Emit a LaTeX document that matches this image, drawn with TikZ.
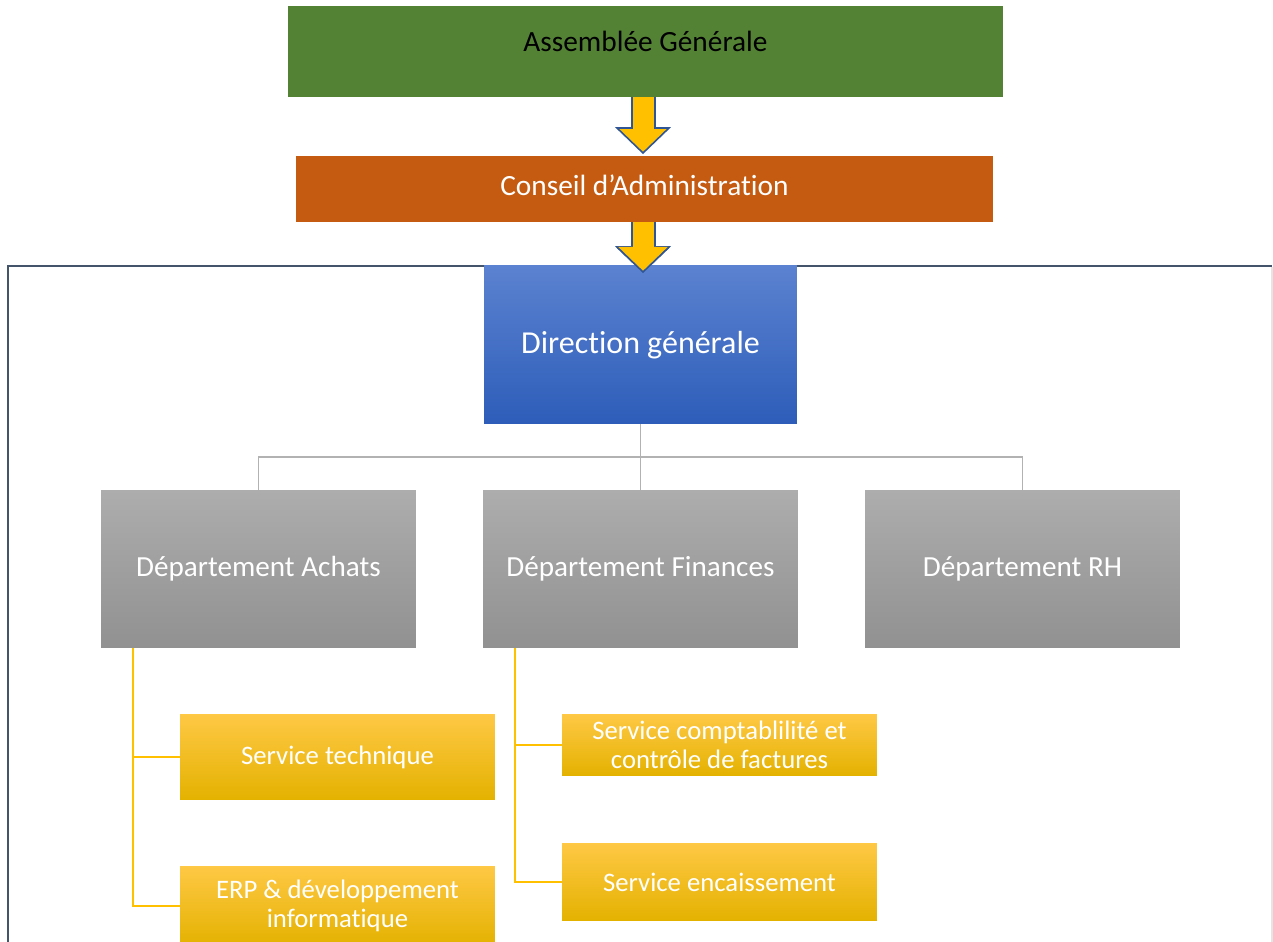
\documentclass[tikz,border=0pt]{standalone}
\usepackage{fontspec}
\setmainfont{Carlito}[Ligatures={NoCommon,NoContextual}]
\usetikzlibrary{calc}

\definecolor{agGreen}{HTML}{548235}
\definecolor{caOrange}{HTML}{C55A11}
\definecolor{dgTop}{HTML}{5B82D0}
\definecolor{dgBot}{HTML}{2D5DB9}
\definecolor{depTop}{HTML}{ADADAD}
\definecolor{depBot}{HTML}{919191}
\definecolor{svTop}{HTML}{FFC845}
\definecolor{svMid}{HTML}{FFC000}
\definecolor{svBot}{HTML}{E3B200}
\definecolor{arrowBlue}{HTML}{2F5597}
\definecolor{frameBlue}{HTML}{44546A}

\tikzset{
  box/.style={inner sep=0pt, outer sep=0pt, anchor=north west, align=center},
  topbox/.style={box, minimum width=14.3cm, font=\fontsize{16.7}{20}\selectfont},
  dirbox/.style={box, text=white, minimum width=6.26cm, minimum height=3.16cm,
    top color=dgTop, bottom color=dgBot, font=\fontsize{18.2}{22}\selectfont},
  depbox/.style={box, text=white, minimum width=6.3cm, minimum height=3.16cm,
    top color=depTop, bottom color=depBot, font=\fontsize{16.6}{20}\selectfont},
  svbox/.style={box, text=white, minimum width=6.3cm,
    top color=svTop, middle color=svMid, bottom color=svBot,
    font=\fontsize{15.2}{16.8}\selectfont},
  grayline/.style={draw=black!30, line width=0.8pt},
  yline/.style={draw=svMid, line width=0.8pt},
  flow/.style={fill=svMid, draw=arrowBlue, line width=0.9pt, line join=miter},
}

\begin{document}
\begin{tikzpicture}[x=0.02cm, y=-0.02cm]
    \useasboundingbox (0,0) rectangle (1273,942);

    % cadre
    \draw[frameBlue, line width=1.2pt] (8,960) -- (8,266) -- (1272,266);
    \draw[black!10, line width=0.6pt] (1272,267) -- (1272,960);

    % fleches
    \draw[flow] (632,90) -- (632,128) -- (617,128) -- (643,153) -- (669,128) -- (655,128) -- (655,90);
    \draw[flow] (632,215) -- (632,247) -- (617,247) -- (643,272) -- (669,247) -- (655,247) -- (655,215);

    \node[topbox, minimum height=1.82cm, fill=agGreen, text=black, text depth=0.4cm] (ag) at (288,6) {Assemblée Générale};
    \node[topbox, minimum width=13.94cm, minimum height=1.32cm, fill=caOrange, text=white, text depth=0.16cm] (ca) at (296,156) {Conseil d’Administration};

    \node[dirbox] (dg) at (484,266) {Direction générale};
    \draw[flow] (617,247) -- (643,272) -- (669,247);

    \node[depbox] (dA) at (101,490) {Département Achats};
    \node[depbox] (dF) at (483,490) {Département Finances};
    \node[depbox] (dR) at (865,490) {Département RH};

    \draw[grayline] (dg.south) -- ++(0,33) coordinate (hub);
    \foreach \d in {dA,dF,dR}
      \draw[grayline] (hub) -| (\d.north);

    \node[svbox, minimum height=1.72cm] (st) at (180,714) {Service technique};
    \node[svbox, minimum height=1.6cm] (erp) at (180,866) {ERP \& développement\\informatique};
    \node[svbox, minimum height=1.24cm] (cc) at (562,714) {Service comptablilité et\\contrôle de factures};
    \node[svbox, minimum height=1.56cm] (enc) at (562,843) {Service encaissement};

    \foreach \s in {st,erp}
      \draw[yline] ($(dA.south west)+(32,0)$) |- (\s.west);
    \foreach \s in {cc,enc}
      \draw[yline] ($(dF.south west)+(32,0)$) |- (\s.west);
\end{tikzpicture}
\end{document}
